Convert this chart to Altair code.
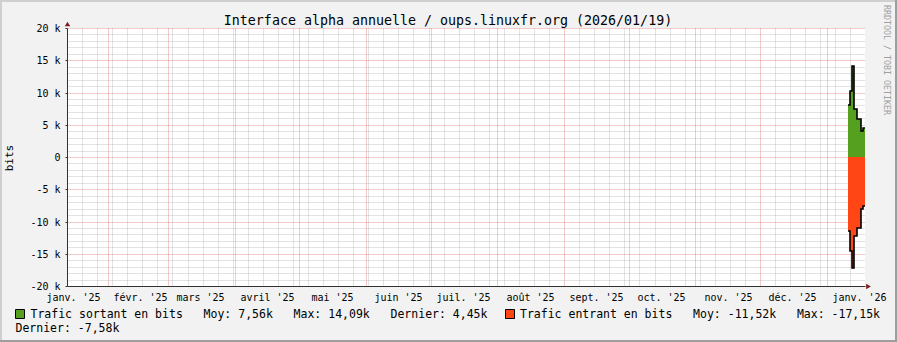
import altair as alt
import pandas as pd

# ---------------- data ----------------
TIMES = ["2026-01-11T01:00:00Z", "2026-01-11T20:00:00Z", "2026-01-12T15:00:00Z",
         "2026-01-13T16:00:00Z", "2026-01-14T22:00:00Z", "2026-01-16T19:00:00Z",
         "2026-01-17T17:00:00Z", "2026-01-18T19:00:00Z"]
OUT_BITS = [8100, 10200, 14090, 7400, 5900, 4000, 4450, 4450]
IN_BITS = [-11500, -14600, -17150, -12200, -11000, -8100, -7580, -7580]

SERIES = ["Trafic sortant en bits", "Trafic entrant en bits"]
SERIES_COLORS = ["#55A01E", "#FF4614"]
MOY = [7.56, -11.52]
MAX = [14.09, -17.15]
DERNIER = [4.45, -7.58]

MONTHS_FR = ["janv.", "févr.", "mars", "avril", "mai", "juin", "juil.",
             "août", "sept.", "oct.", "nov.", "déc."]
Y_LABEL_VALUES = [-20000, -15000, -10000, -5000, 0, 5000, 10000, 15000, 20000]
Y_MINOR_VALUES = [v for v in range(-19000, 20000, 1000) if v % 5000 != 0]
TITLE = "Interface alpha annuelle / oups.linuxfr.org (2026/01/19)"
Y_TITLE = "bits"
WATERMARK = "RRDTOOL / TOBI OETIKER"

X_START = alt.DateTime(year=2025, month=1, date=13, utc=True)
X_END = alt.DateTime(year=2026, month=1, date=18, hours=19, utc=True)

MONO = "DejaVu Sans Mono"
OX, OY = 67, 28          # plot origin inside the 897x342 canvas
W, H = 798, 258
NB = "\u00a0"            # non-breaking space (keeps monospace gaps)


def dt(ts):
    return alt.DateTime(year=ts.year, month=ts.month, date=ts.day, utc=True)


label_dates = [dt(t + pd.Timedelta(days=15)) for t in pd.date_range("2025-01-01", "2026-01-01", freq="MS")]
month_starts = [dt(t) for t in pd.date_range("2025-02-01", "2026-01-01", freq="MS")]
mondays = [dt(t) for t in pd.date_range("2025-01-20", "2026-01-12", freq="7D") if t.day != 1]

df = pd.DataFrame({"t": TIMES, "out": OUT_BITS, "in": IN_BITS})

x_scale = alt.Scale(type="utc", domain=[X_START, X_END], round=True)
y_scale = alt.Scale(domain=[-20000, 20000], nice=False, zero=False, round=True)

months_js = "[" + ",".join('"%s"' % m for m in MONTHS_FR) + "]"
x_label_expr = months_js + "[utcmonth(datum.value)] + \" '\" + utcFormat(datum.value, '%y')"
y_label_expr = "datum.value == 0 ? '0" + NB + NB + "' : (datum.value / 1000) + ' k'"

GRID_GRAY = dict(grid=True, gridColor="#8f8f8f", gridOpacity=0.5, gridDash=[1, 1], gridWidth=1)
GRID_RED = dict(grid=True, gridColor="#de4f4f", gridOpacity=0.6, gridDash=[1, 1], gridWidth=1)

x_axis_labels = alt.Axis(orient="bottom", values=label_dates, labelExpr=x_label_expr,
                         ticks=False, tickSize=0, grid=False, domain=True,
                         domainColor="#333333", labelFont=MONO, labelFontSize=10,
                         labelColor="black", labelPadding=14.5, labelBaseline="alphabetic",
                         labelOverlap=False, labelFlush=False, title=None, zindex=1)
x_axis_week = alt.Axis(orient="bottom", values=mondays, labels=False, ticks=False,
                       domain=False, title=None, **GRID_GRAY)
x_axis_month = alt.Axis(orient="bottom", values=month_starts, labels=False, ticks=False,
                        domain=False, title=None, **GRID_RED)

y_axis_labels = alt.Axis(orient="left", values=Y_LABEL_VALUES, labelExpr=y_label_expr,
                         ticks=True, tickSize=2, tickColor="#333333", grid=False,
                         domain=True, domainColor="#333333", labelFont=MONO,
                         labelFontSize=10, labelColor="black", labelPadding=5,
                         labelBaseline="middle", title=None, zindex=1)
y_axis_minor = alt.Axis(orient="left", values=Y_MINOR_VALUES, labels=False, ticks=False,
                        domain=False, title=None, **GRID_GRAY)
y_axis_major = alt.Axis(orient="left", values=Y_LABEL_VALUES, labels=False, ticks=False,
                        domain=False, title=None, **GRID_RED)

area_out = alt.Chart(df).mark_area(interpolate="step-after", color=SERIES_COLORS[0], opacity=1).encode(
    x=alt.X("t:T", scale=x_scale, axis=x_axis_labels),
    y=alt.Y("out:Q", scale=y_scale, axis=y_axis_labels, stack=None),
    y2=alt.datum(0),
)
area_in = alt.Chart(df).mark_area(interpolate="step-after", color=SERIES_COLORS[1], opacity=1).encode(
    x=alt.X("t:T", scale=x_scale, axis=x_axis_week),
    y=alt.Y("in:Q", scale=y_scale, axis=y_axis_minor, stack=None),
    y2=alt.datum(0),
)
line_out = alt.Chart(df).mark_line(interpolate="step-after", color="black", strokeWidth=1.6).encode(
    x=alt.X("t:T", scale=x_scale, axis=x_axis_month),
    y=alt.Y("out:Q", scale=y_scale, axis=y_axis_major),
)
line_in = alt.Chart(df).mark_line(interpolate="step-after", color="black", strokeWidth=1.6).encode(
    x=alt.X("t:T", scale=x_scale, axis=None),
    y=alt.Y("in:Q", scale=y_scale, axis=None),
)


def text_layer(text, x, y, **kw):
    return alt.Chart(pd.DataFrame({"s": [text]})).mark_text(font=MONO, **kw).encode(
        x=alt.value(x), y=alt.value(y), text="s:N")


def rect_layer(x1, x2, y1, y2, **kw):
    return alt.Chart(pd.DataFrame({"a": [0]})).mark_rect(**kw).encode(
        x=alt.value(x1), x2=alt.value(x2), y=alt.value(y1), y2=alt.value(y2))


def fr(v):
    return ("%.2f" % v).replace(".", ",") + "k"


SEP = NB * 3
leg1 = SEP.join([SERIES[0], "Moy:" + NB + fr(MOY[0]), "Max:" + NB + fr(MAX[0]),
                 "Dernier:" + NB + fr(DERNIER[0])])
leg2 = SEP.join([SERIES[1], "Moy:" + NB + fr(MOY[1]), "Max:" + NB + fr(MAX[1])])
leg3 = "Dernier:" + NB + fr(DERNIER[1])

CW, CH = 897, 342
frame = [
    rect_layer(-OX, CW - OX, -OY, -OY + 2, color="#CFCFCF"),
    rect_layer(-OX, -OX + 2, -OY, CH - OY, color="#CFCFCF"),
    rect_layer(-OX, CW - OX, CH - OY - 2, CH - OY, color="#9E9E9E"),
    rect_layer(CW - OX - 2, CW - OX, -OY, CH - OY, color="#9E9E9E"),
]

texts = [
    text_layer(TITLE, 448 - OX, 24.5 - OY, fontSize=13.3, align="center", baseline="alphabetic", color="black"),
    text_layer(WATERMARK, 886 - OX, 60 - OY, fontSize=8.3, angle=90, align="center", baseline="middle", color="#a0a0a0"),
    text_layer(Y_TITLE, 10 - OX, 158 - OY, fontSize=11, angle=270, align="center", baseline="middle", color="black"),
    text_layer(leg1, 30.5 - OX, 318.3 - OY, fontSize=11.5, align="left", baseline="alphabetic", color="black"),
    text_layer(leg2, 520 - OX, 318.3 - OY, fontSize=11.5, align="left", baseline="alphabetic", color="black"),
    text_layer(leg3, 15.5 - OX, 331.7 - OY, fontSize=11.5, align="left", baseline="alphabetic", color="black"),
]

squares = [
    rect_layer(15.5 - OX, 24.5 - OX, 309.5 - OY, 318.5 - OY, color=SERIES_COLORS[0], stroke="black", strokeWidth=1),
    rect_layer(505.5 - OX, 514.5 - OX, 309.5 - OY, 318.5 - OY, color=SERIES_COLORS[1], stroke="black", strokeWidth=1),
]

arrow_up = alt.Chart(pd.DataFrame({"a": [0]})).mark_point(
    shape="triangle-up", filled=True, color="#801F1F", size=30, opacity=1).encode(
    x=alt.value(0.5), y=alt.value(-4))
arrow_right = alt.Chart(pd.DataFrame({"a": [0]})).mark_point(
    shape="triangle-right", filled=True, color="#801F1F", size=30, opacity=1).encode(
    x=alt.value(W + 3.5), y=alt.value(H + 0.5))

chart = alt.layer(
    area_out, area_in, line_out, line_in, arrow_up, arrow_right, *frame, *texts, *squares
).resolve_axis(x="independent", y="independent").properties(
    width=W, height=H,
    autosize=alt.AutoSizeParams(type="none"),
    padding={"left": OX, "top": OY, "right": CW - OX - W, "bottom": CH - OY - H},
    background="#F2F2F2",
).configure_view(fill="white", stroke=None)

chart.save("out.html", embed_options={"renderer": "svg", "actions": False})
